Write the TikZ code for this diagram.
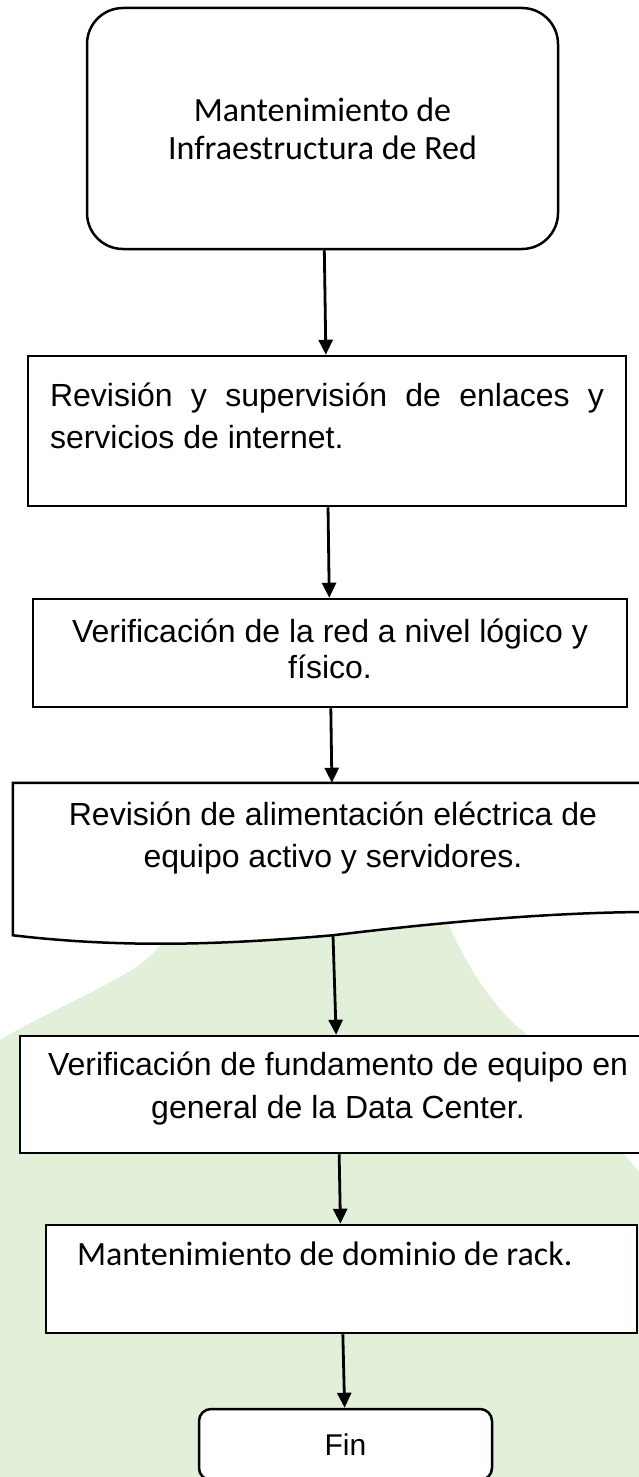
\documentclass[tikz,border=0pt]{standalone}
\usepackage{fontspec}
\setmainfont{Liberation Sans}
\newfontfamily\candfont{Carlito}
\usetikzlibrary{positioning}
\usetikzlibrary{arrows.meta}

\definecolor{fondo}{RGB}{226,240,217}
\pgfdeclarelayer{verde}
\pgfdeclarelayer{formas}
\pgfsetlayers{verde,formas,main}
\newcommand{\caja}[3]{\parbox[c][#1][t]{#2}{#3}}

\begin{document}
\begin{tikzpicture}[x=1pt,y=-1pt,>={Triangle[length=15pt,width=14pt]},
  flecha/.style={->,line width=2.8pt},
  inicio/.style={draw,rounded corners=36pt,line width=2.5pt,fill=white,align=center,
    font={\candfont\fontsize{34}{38}\selectfont},minimum width=471pt,minimum height=241pt,inner sep=0pt},
  proceso/.style={draw,line width=2.5pt,fill=white,inner sep=0pt,font={\fontsize{32}{42}\selectfont}},
  final/.style={draw,rounded corners=12pt,line width=2.5pt,fill=white,inner sep=0pt,
    font={\fontsize{30}{36}\selectfont},minimum width=293pt,minimum height=71pt}]
\useasboundingbox (0,0) rectangle (639,1477);
\begin{pgfonlayer}{verde}
\fill[white] (0,0) rectangle (639,1477);
\fill[fondo] (0,1040) .. controls (40,1016) and (100,990) .. (135,968)
  .. controls (150,958) and (160,946) .. (170,935) -- (170,900) -- (445,900) -- (449,925)
  .. controls (465,962) and (490,1005) .. (525,1033) -- (639,1172) -- (639,1477) -- (0,1477) -- cycle;
\end{pgfonlayer}

\node[inicio] (inicio) at (322.5,128.5) {Mantenimiento de\\Infraestructura de Red};
\node[proceso] (enlaces) at (327,431) {\caja{150pt}{598pt}{\rule{0pt}{50pt}\hspace*{22pt}%
  \makebox[554pt][s]{Revisión y supervisión de enlaces y}\\\hspace*{22pt}servicios de internet.}};
\node[proceso] (red) at (330,653) {\caja{108pt}{594pt}{\centering\fontsize{32}{36}\selectfont
  \rule{0pt}{43pt}Verificación de la red a nivel lógico y\\físico.}};
\node[proceso,draw=none,fill=none] (electrica) at (333,859) {\caja{150pt}{638pt}{\centering
  \rule{0pt}{41pt}Revisión de alimentación eléctrica de\\equipo activo y servidores.}};
\node[proceso] (fundamento) at (338,1094.5) {\caja{117pt}{636pt}{\centering\fontsize{32}{43}\selectfont
  \rule{0pt}{39pt}Verificación de fundamento de equipo en\\general de la Data Center.}};
\node[proceso] (rack) at (341.5,1279) {\caja{108pt}{591pt}{\candfont\fontsize{34}{40}\selectfont
  \rule{0pt}{40pt}\hspace*{31pt}Mantenimiento de dominio de rack.}};
\node[final] (fin) at (345.5,1444.5) {Fin};

% documento con borde ondulado
\begin{pgfonlayer}{formas}
\draw[line width=2.5pt,fill=white] (electrica.north west) -- (electrica.north east) -- (652,912)
  .. controls (560,912) and (450,921) .. (electrica.south)
  .. controls (220,945) and (120,948) .. (electrica.south west) -- cycle;
\end{pgfonlayer}

\draw[flecha] (inicio) -- (enlaces);
\draw[flecha] (enlaces) -- (red);
\draw[flecha] (red) -- (electrica);
\draw[flecha] (electrica.south) -- (fundamento);
\draw[flecha] (fundamento) -- (rack);
\draw[flecha] (rack) -- (fin);
\end{tikzpicture}
\end{document}
